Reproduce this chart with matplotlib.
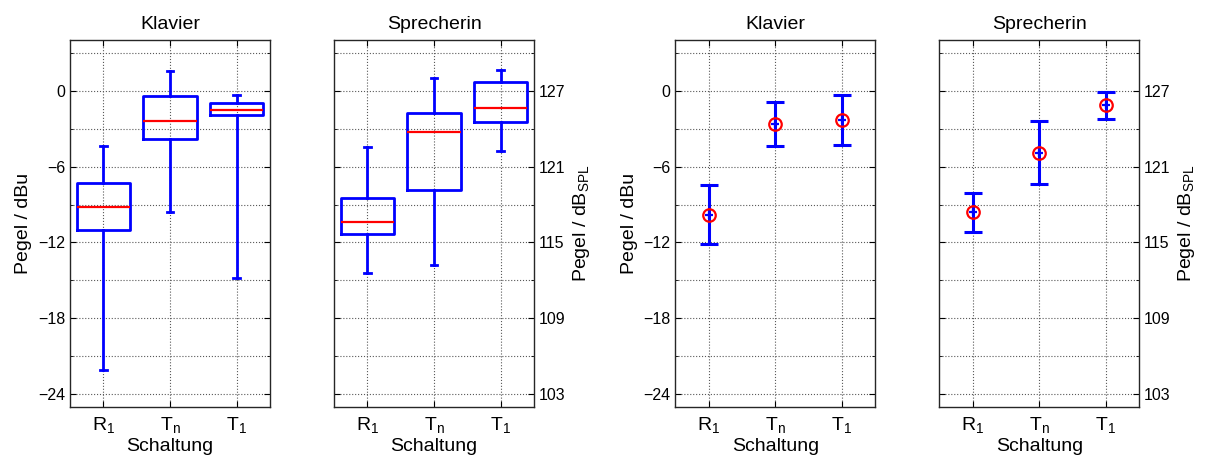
import matplotlib
matplotlib.use('Agg')
import matplotlib.pyplot as plt
import numpy as np

plt.rcParams['font.family'] = ['Liberation Sans', 'DejaVu Sans']
plt.rcParams['mathtext.fontset'] = 'custom'
plt.rcParams['mathtext.rm'] = 'Liberation Sans'
plt.rcParams['mathtext.it'] = 'Liberation Sans'

categories = ['$\\mathrm{R_1}$', '$\\mathrm{T_n}$', '$\\mathrm{T_1}$']

# box plot stats: whisker low, q1, median, q3, whisker high
klavier_whislo = [-22.1, -9.6, -14.8]
klavier_q1 = [-11.0, -3.85, -1.9]
klavier_med = [-9.2, -2.4, -1.5]
klavier_q3 = [-7.3, -0.4, -1.0]
klavier_whishi = [-4.35, 1.55, -0.35]

sprech_whislo = [112.6, 113.2, 122.2]
sprech_q1 = [115.7, 119.15, 124.5]
sprech_med = [116.6, 123.7, 125.6]
sprech_q3 = [118.5, 125.25, 127.7]
sprech_whishi = [122.55, 128.0, 128.6]

# mean with confidence interval
klavier_mean = [-9.8, -2.63, -2.29]
klavier_lo = [-12.14, -4.35, -4.27]
klavier_hi = [-7.46, -0.92, -0.37]

sprech_mean = [117.4, 122.1, 125.85]
sprech_lo = [115.83, 119.6, 124.73]
sprech_hi = [118.94, 124.6, 126.92]

x = np.arange(1, 4)

fig = plt.figure(figsize=(12.05, 4.57), dpi=100)
lefts = [70, 334, 675.3, 939.3]
axes = [fig.add_axes([l / 1205, 50 / 457, 200 / 1205, 367 / 457]) for l in lefts]


def style_axis(ax, title, right):
    ax.set_xlim(0.5, 3.5)
    if right:
        ax.set_ylim(102, 131)
        ax.set_yticks(np.arange(103, 128, 6))
        ax.set_yticks(np.arange(103, 131, 3), minor=True)
        ax.yaxis.tick_right()
        ax.yaxis.set_label_position('right')
        ax.set_ylabel('Pegel / dB$_{\\mathrm{SPL}}$', fontsize=14)
    else:
        ax.set_ylim(-25, 4)
        ax.set_yticks(np.arange(-24, 1, 6))
        ax.set_yticks(np.arange(-24, 4, 3), minor=True)
        ax.set_ylabel('Pegel / dBu', fontsize=14)
    ax.set_xticks(x)
    ax.set_xticklabels(categories, fontsize=14)
    ax.tick_params(axis='y', which='both', labelsize=11.5, direction='in',
                   left=True, right=True, length=4)
    ax.tick_params(axis='y', which='minor', length=2)
    ax.tick_params(axis='x', direction='in', top=True, length=4, pad=6)
    ax.grid(True, which='both', linestyle=':', color='0.35', linewidth=0.8)
    ax.set_axisbelow(True)
    ax.set_xlabel('Schaltung', fontsize=14, labelpad=2)
    ax.set_title(title, fontsize=14, pad=8)
    for s in ax.spines.values():
        s.set_color('0.15')
        s.set_linewidth(1.0)


def boxes(ax, lo, q1, med, q3, hi):
    stats = []
    for i in range(3):
        stats.append({'whislo': lo[i], 'q1': q1[i], 'med': med[i],
                      'q3': q3[i], 'whishi': hi[i], 'fliers': []})
    ax.bxp(stats, positions=x, widths=0.8, capwidths=0.1, showfliers=False,
           boxprops=dict(color='blue', linewidth=2.0),
           whiskerprops=dict(color='blue', linewidth=2.0),
           capprops=dict(color='blue', linewidth=2.0),
           medianprops=dict(color='red', linewidth=1.6))


def means(ax, m, lo, hi):
    m = np.array(m)
    yerr = [m - np.array(lo), np.array(hi) - m]
    ax.errorbar(x, m, yerr=yerr, fmt='none', ecolor='blue', elinewidth=2.2,
                capsize=6.5, capthick=2.2)
    ax.plot(x, m, 'o', mfc='none', mec='red', ms=9, mew=1.6)
    ax.plot(x, m, '+', color='blue', ms=6, mew=1.6)


boxes(axes[0], klavier_whislo, klavier_q1, klavier_med, klavier_q3, klavier_whishi)
style_axis(axes[0], 'Klavier', False)
boxes(axes[1], sprech_whislo, sprech_q1, sprech_med, sprech_q3, sprech_whishi)
style_axis(axes[1], 'Sprecherin', True)
means(axes[2], klavier_mean, klavier_lo, klavier_hi)
style_axis(axes[2], 'Klavier', False)
means(axes[3], sprech_mean, sprech_lo, sprech_hi)
style_axis(axes[3], 'Sprecherin', True)

fig.savefig('out.png', dpi=100)
